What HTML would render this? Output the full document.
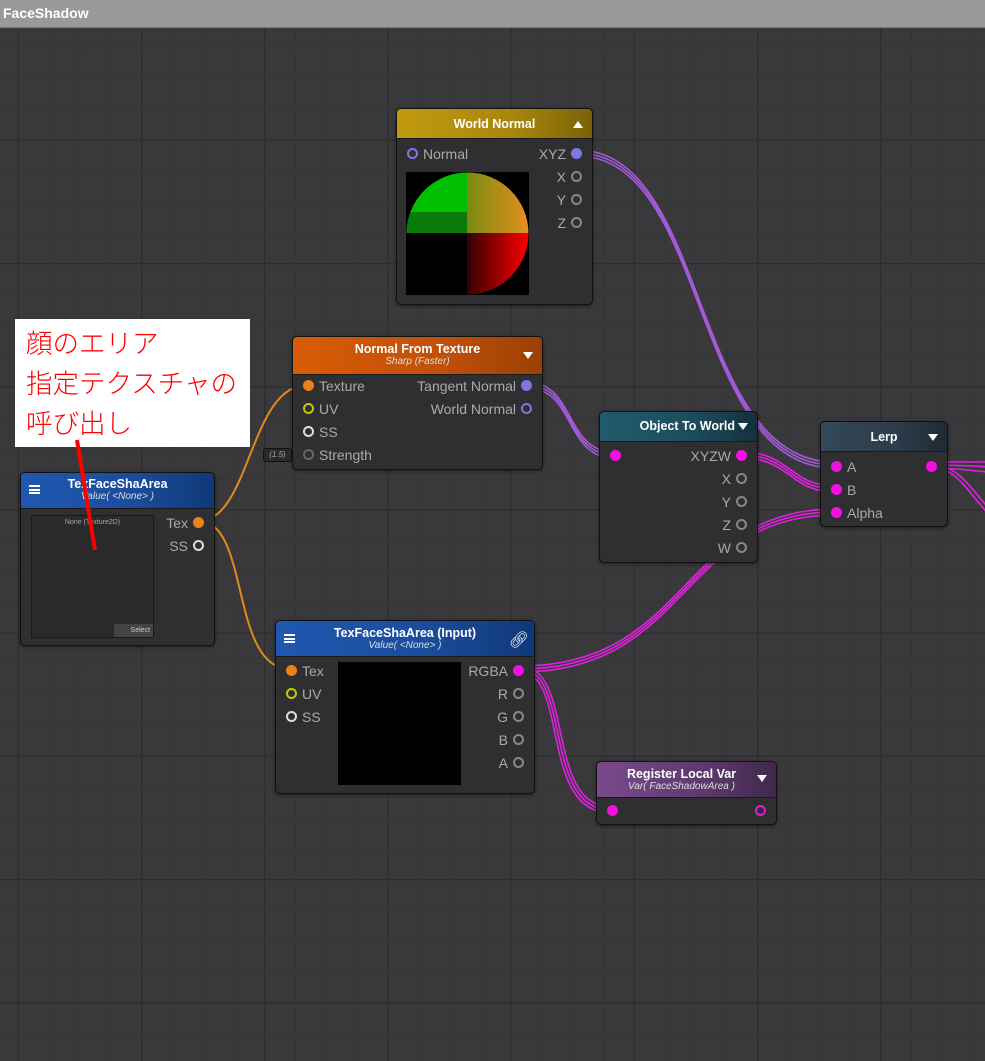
<!DOCTYPE html>
<html><head><meta charset="utf-8"><style>
*{box-sizing:border-box;margin:0;padding:0}
body{width:985px;height:1061px;overflow:hidden;background:#39393b;font-family:"Liberation Sans","DejaVu Sans",sans-serif;position:relative}
.bar{position:absolute;left:0;top:0;width:985px;height:28px;background:#999;border-bottom:1px solid #777;color:#fff;font-weight:bold;font-size:14px;padding:5px 0 0 3px}
.n{position:absolute;background:#2f2f32;border:1.5px solid #111;border-radius:5px;overflow:hidden;box-shadow:0 1px 3px rgba(0,0,0,.5)}
.h{position:absolute;left:0;top:0;right:0;color:#fff;font-weight:bold;font-size:12.5px;text-align:center;border-bottom:1px solid #1a1a1a}
.h i{display:block;font-weight:normal;font-size:10px;color:#ddd;margin-top:0px}
.t{position:absolute;font-size:14px;color:#aaa;line-height:16px;white-space:nowrap}
.p{position:absolute;width:11px;height:11px;border-radius:50%}
.tri{position:absolute;width:0;height:0;border-left:5px solid transparent;border-right:5px solid transparent;border-top:7px solid #fff}
</style></head><body>
<svg width="985" height="1061" style="position:absolute;left:0;top:0">
<defs>
<pattern id="mi" x="17.8" y="16.6" width="30.8" height="30.8" patternUnits="userSpaceOnUse"><path d="M0 0H30.8M0 0V30.8" stroke="#333335" stroke-width="1.6" fill="none"/></pattern>
<pattern id="ma" x="17.8" y="16.6" width="123.2" height="123.2" patternUnits="userSpaceOnUse"><path d="M0 0H123.2M0 0V123.2" stroke="#2d2d2f" stroke-width="2.5" fill="none"/></pattern>
</defs>
<rect width="985" height="1061" fill="url(#mi)"/>
<rect width="985" height="1061" fill="url(#ma)"/>
<g fill="none" stroke-width="1.6">
<g stroke="#a35ad8">
<path d="M577 150 C710 150 690 462 835 462"/><path d="M577 153 C710 153 690 465 835 465"/><path d="M577 156 C710 156 690 468 835 468"/>
<path d="M527 382 C575 382 565 452 614 452"/><path d="M527 385 C575 385 565 455 614 455"/><path d="M527 388 C575 388 565 458 614 458"/>
</g>
<g stroke="#e020e0">
<path d="M741 452 C790 452 790 486 835 486"/><path d="M741 455 C790 455 790 489 835 489"/><path d="M741 458 C790 458 790 492 835 492"/>
<path d="M520 666 C690 666 680 509 835 509"/><path d="M520 669 C690 669 680 512 835 512"/><path d="M520 672 C690 672 680 515 835 515"/>
<path d="M520 666 C575 666 545 807 611 807"/><path d="M520 669 C572 669 542 810 611 810"/><path d="M520 672 C569 672 539 813 611 813"/>
<path d="M932 462 C960 462 970 462 990 462"/><path d="M932 465 C960 465 970 466 990 467"/><path d="M932 468 C960 468 970 471 990 472"/>
<path d="M932 465 C955 465 965 480 990 510"/><path d="M932 468 C955 468 962 484 990 516"/>
</g>
<g stroke="#e08a1a" stroke-width="2">
<path d="M199 521 C250 521 250 385 307 385"/>
<path d="M199 521 C250 521 230 669 290 669"/>
</g>
</g>
</svg>
<div class="bar">FaceShadow</div>

<div class="n" style="left:396px;top:108px;width:197px;height:197px">
<div class="h" style="height:30px;padding-top:8px;background:linear-gradient(90deg,#c29a10,#a8860c 60%,#7a6208)">World Normal</div>
<div class="tri" style="right:9px;top:12px;border-top:none;border-bottom:7px solid #fff"></div>
<div class="p" style="left:10px;top:39px;border:2px solid #7b78e0"></div><div class="t" style="left:26px;top:37px">Normal</div>
<div class="t" style="right:26px;top:37px">XYZ</div><div class="p" style="right:10px;top:39px;background:#7b78e0"></div>
<div class="t" style="right:26px;top:60px">X</div><div class="p" style="right:10px;top:62px;border:2px solid #888"></div>
<div class="t" style="right:26px;top:83px">Y</div><div class="p" style="right:10px;top:85px;border:2px solid #888"></div>
<div class="t" style="right:26px;top:106px">Z</div><div class="p" style="right:10px;top:108px;border:2px solid #888"></div>
<svg style="position:absolute;left:9px;top:63px" width="123" height="123"><rect width="123" height="123" fill="#000"/>
<defs><clipPath id="c"><circle cx="61.5" cy="61.5" r="61"/></clipPath>
<linearGradient id="g2" x1="0" x2="1"><stop offset="0" stop-color="#7a8a10"/><stop offset="1" stop-color="#e59020"/></linearGradient>
<linearGradient id="g3" x1="0" x2="1"><stop offset="0" stop-color="#300"/><stop offset="1" stop-color="#ff0000"/></linearGradient></defs>
<g clip-path="url(#c)"><rect width="61" height="61" fill="#00c000"/><rect x="0" y="40" width="61" height="21" fill="#0a7a0a"/><rect x="61" width="62" height="61" fill="url(#g2)"/><rect x="61" y="61" width="62" height="62" fill="url(#g3)"/></g></svg>
</div>

<div class="n" style="left:292px;top:336px;width:251px;height:134px">
<div class="h" style="height:38px;padding-top:5px;background:linear-gradient(90deg,#d85c05,#c05008 60%,#9a4005)">Normal From Texture<i>Sharp (Faster)</i></div>
<div class="tri" style="right:9px;top:15px"></div>
<div class="p" style="left:10px;top:43px;background:#e8821c"></div><div class="t" style="left:26px;top:41px">Texture</div>
<div class="p" style="left:10px;top:66px;border:2px solid #c8c800"></div><div class="t" style="left:26px;top:64px">UV</div>
<div class="p" style="left:10px;top:89px;border:2px solid #ddd"></div><div class="t" style="left:26px;top:87px">SS</div>
<div class="p" style="left:10px;top:112px;border:2px solid #666"></div><div class="t" style="left:26px;top:110px">Strength</div>
<div class="t" style="right:26px;top:41px">Tangent Normal</div><div class="p" style="right:10px;top:43px;background:#7b78e0"></div>
<div class="t" style="right:26px;top:64px">World Normal</div><div class="p" style="right:10px;top:66px;border:2px solid #7b78e0"></div>
</div>
<div style="position:absolute;left:263px;top:448px;width:29px;height:14px;background:#2a2a2c;border:1px solid #111;border-radius:3px;font-size:8px;color:#aaa;font-style:italic;text-align:center;line-height:12px">(1.5)</div>

<div class="n" style="left:20px;top:472px;width:195px;height:174px">
<div class="h" style="height:36px;padding-top:4px;background:linear-gradient(90deg,#2058b0,#1a4c9a 60%,#103878)">TexFaceShaArea<i>Value( &lt;None&gt; )</i></div>
<div style="position:absolute;left:8px;top:12px;width:11px;height:9px;border-top:2px solid #fff;border-bottom:2px solid #fff"><div style="border-top:2px solid #fff;margin-top:1.5px"></div></div>
<div style="position:absolute;left:10px;top:42px;width:123px;height:123px;background:#2a2a2a;border:1px solid #1a1a1a"><div style="font-size:7px;color:#aaa;text-align:center;margin-top:3px">None (Texture2D)</div>
<div style="position:absolute;right:0;bottom:0;width:39px;height:13px;background:#444;font-size:7px;color:#ccc;text-align:right;padding-right:3px;line-height:13px">Select</div></div>
<div class="t" style="right:26px;top:42px">Tex</div><div class="p" style="right:10px;top:44px;background:#e8821c"></div>
<div class="t" style="right:26px;top:65px">SS</div><div class="p" style="right:10px;top:67px;border:2px solid #ddd"></div>
</div>

<div class="n" style="left:599px;top:411px;width:159px;height:152px">
<div class="h" style="height:30px;padding-top:7px;padding-right:22px;text-align:right;background:linear-gradient(90deg,#205c6c,#1c4c5c 60%,#15303c)">Object To World</div>
<div class="tri" style="right:9px;top:11px"></div>
<div class="p" style="left:10px;top:38px;background:#f010e0"></div>
<div class="t" style="right:26px;top:36px">XYZW</div><div class="p" style="right:10px;top:38px;background:#f010e0"></div>
<div class="t" style="right:26px;top:59px">X</div><div class="p" style="right:10px;top:61px;border:2px solid #888"></div>
<div class="t" style="right:26px;top:82px">Y</div><div class="p" style="right:10px;top:84px;border:2px solid #888"></div>
<div class="t" style="right:26px;top:105px">Z</div><div class="p" style="right:10px;top:107px;border:2px solid #888"></div>
<div class="t" style="right:26px;top:128px">W</div><div class="p" style="right:10px;top:130px;border:2px solid #888"></div>
</div>

<div class="n" style="left:820px;top:421px;width:128px;height:106px">
<div class="h" style="height:30px;padding-top:8px;background:linear-gradient(90deg,#344858,#2c3c4a 60%,#1e2a34)">Lerp</div>
<div class="tri" style="right:9px;top:12px"></div>
<div class="p" style="left:10px;top:39px;background:#f010e0"></div><div class="t" style="left:26px;top:37px">A</div>
<div class="p" style="left:10px;top:62px;background:#f010e0"></div><div class="t" style="left:26px;top:60px">B</div>
<div class="p" style="left:10px;top:85px;background:#f010e0"></div><div class="t" style="left:26px;top:83px">Alpha</div>
<div class="p" style="right:10px;top:39px;background:#f010e0"></div>
</div>

<div class="n" style="left:275px;top:620px;width:260px;height:174px">
<div class="h" style="height:36px;padding-top:5px;background:linear-gradient(90deg,#2058b0,#1a4c9a 60%,#103878)">TexFaceShaArea (Input)<i>Value( &lt;None&gt; )</i></div>
<div style="position:absolute;left:8px;top:13px;width:11px;height:9px;border-top:2px solid #fff;border-bottom:2px solid #fff"><div style="border-top:2px solid #fff;margin-top:1.5px"></div></div>
<div style="position:absolute;right:5px;top:9px;color:#fff;font-size:16px">&#x1F517;&#xFE0E;</div>
<div class="p" style="left:10px;top:44px;background:#e8821c"></div><div class="t" style="left:26px;top:42px">Tex</div>
<div class="p" style="left:10px;top:67px;border:2px solid #c8c800"></div><div class="t" style="left:26px;top:65px">UV</div>
<div class="p" style="left:10px;top:90px;border:2px solid #ddd"></div><div class="t" style="left:26px;top:88px">SS</div>
<div style="position:absolute;left:62px;top:41px;width:123px;height:123px;background:#000"></div>
<div class="t" style="right:26px;top:42px">RGBA</div><div class="p" style="right:10px;top:44px;background:#f010e0"></div>
<div class="t" style="right:26px;top:65px">R</div><div class="p" style="right:10px;top:67px;border:2px solid #888"></div>
<div class="t" style="right:26px;top:88px">G</div><div class="p" style="right:10px;top:90px;border:2px solid #888"></div>
<div class="t" style="right:26px;top:111px">B</div><div class="p" style="right:10px;top:113px;border:2px solid #888"></div>
<div class="t" style="right:26px;top:134px">A</div><div class="p" style="right:10px;top:136px;border:2px solid #888"></div>
</div>

<div class="n" style="left:596px;top:761px;width:181px;height:64px">
<div class="h" style="height:36px;padding-top:5px;padding-right:10px;background:linear-gradient(90deg,#7a4a8c,#5c3a6c 60%,#40284c)">Register Local Var<i>Var( FaceShadowArea )</i></div>
<div class="tri" style="right:9px;top:13px"></div>
<div class="p" style="left:10px;top:43px;background:#f010e0"></div>
<div class="p" style="right:10px;top:43px;border:2px solid #f010e0"></div>
</div>

<div style="position:absolute;left:15px;top:319px;width:235px;height:128px;background:#fff;color:#f00;font-family:'Liberation Sans','Noto Sans CJK JP',sans-serif;font-size:26.5px;line-height:40px;padding:5px 0 0 11px;font-weight:300;white-space:nowrap">顔のエリア<br>指定テクスチャの<br>呼び出し</div>
<svg width="40" height="120" style="position:absolute;left:60px;top:435px"><line x1="17" y1="5" x2="35" y2="115" stroke="#f00" stroke-width="4"/></svg>
</body></html>
